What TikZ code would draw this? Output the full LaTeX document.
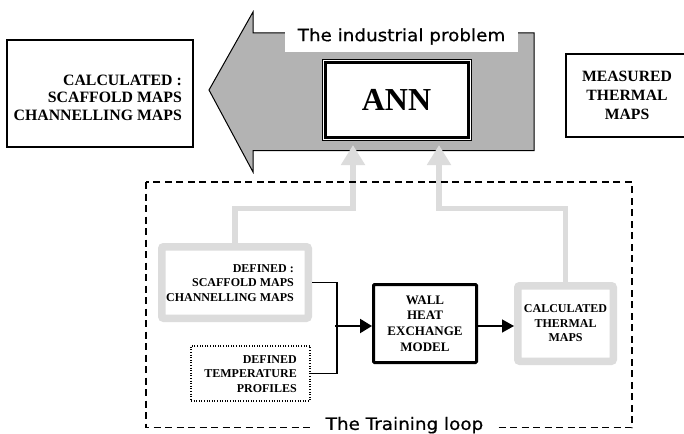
\documentclass[tikz,border=0pt]{standalone}
\usepackage{fontspec}
\setmainfont{Liberation Serif}
\newfontfamily\tagfont[FakeStretch=1.08,FakeBold=0.6]{DejaVu Sans}
\usetikzlibrary{arrows.meta}
\definecolor{arrowgray}{HTML}{B3B3B3}
\definecolor{loopgray}{HTML}{DCDCDC}
\newcommand\setsz[2]{\fontsize{#1pt}{#2pt}\selectfont}

\begin{document}
\begin{tikzpicture}[x=1pt,y=-1pt,
  frame/.style={draw, line width=1.2pt, inner sep=0pt},
  graybox/.style={draw=loopgray, line width=7.5pt, rounded corners=2pt,
                  fill=white, inner sep=0pt},
  bigcaps/.style={font=\setsz{15.8}{17.5}\bfseries, align=right, inner sep=0pt},
  smallcaps/.style={font=\setsz{12}{14.6}\bfseries, align=right, inner sep=0pt},
  tag/.style={fill=white, inner sep=0pt, font=\tagfont\setsz{17}{20}},
  feed/.style={loopgray, line width=5.5pt, -{Triangle[length=20pt,width=23pt]}},
  wire/.style={line width=1.2pt}
]
\useasboundingbox (0,0) rectangle (684,433);
\fill[white] (0,0) rectangle (684,433);

% the industrial problem: large left-pointing arrow
\draw[fill=arrowgray, line width=1pt, line join=miter]
  (209,90) -- (253,12) -- (253,33) -- (534,33) -- (534,150.5)
  -- (253,150.5) -- (253,172) -- cycle;
\node[tag, minimum width=233pt, minimum height=32pt] (indus) at (401.5,36.5)
  {The industrial problem};

% neural network block with double frame
\node[draw, line width=0.8pt, outer sep=0pt, fill=white, minimum width=149pt,
      minimum height=81.5pt, inner sep=0pt, font=\setsz{32}{36}\bfseries]
  (ann) at (396.5,100) {ANN};
\draw[line width=3pt] ([shift={(3pt,3pt)}]ann.south west)
  rectangle ([shift={(-3pt,-3pt)}]ann.north east);

% output and input maps
\node[frame, minimum width=186pt, minimum height=107pt] (outbox) at (100,93.5) {};
\node[bigcaps, anchor=east] (outtext) at (182,97.5)
  {CALCULATED :\\SCAFFOLD MAPS\\CHANNELLING MAPS};
\node[frame, minimum width=122pt, minimum height=83pt,
      font=\setsz{15.7}{19}\bfseries, align=center] (meas) at (627,95.5)
  {MEASURED\\THERMAL\\MAPS};

% training loop blocks
\node[graybox, minimum width=146.5pt, minimum height=71.5pt] (defbox) at (235,282.5) {};
\node[smallcaps, anchor=east] (deftext) at (294,283)
  {DEFINED :\\SCAFFOLD MAPS\\CHANNELLING MAPS};
\node[draw, line width=1.3pt, dash pattern=on 1pt off 1.6pt, minimum width=119pt,
      minimum height=55pt, inner sep=0pt] (tempbox) at (250.5,373.5) {};
\node[smallcaps, anchor=east, font=\setsz{12}{14.8}\bfseries] (temptext) at (297,374)
  {DEFINED\\TEMPERATURE\\PROFILES};
\node[draw, line width=3pt, rounded corners=1pt, minimum width=103pt,
      minimum height=78pt, inner sep=0pt, font=\setsz{13}{15.7}\bfseries,
      align=center] (wall) at (425,323.5) {WALL\\HEAT\\EXCHANGE\\MODEL};
\node[graybox, minimum width=95.5pt, minimum height=75.5pt,
      font=\setsz{12}{14.5}\bfseries, align=center] (calcmaps) at (565.5,323.5)
  {CALCULATED\\THERMAL\\MAPS};

% black connectors
\coordinate (join) at (337,326);
\draw[wire] (defbox.east) -| (join) |- (tempbox.east);
\draw[line width=2.2pt, -{Triangle[length=12pt,width=14pt]}]
  ([xshift=-2pt]join) -- (wall.west |- join);
\draw[line width=1.5pt, -{Triangle[length=12pt,width=13pt]}]
  (wall.east |- join) -- (calcmaps.west |- join);

% feedback to the network
\coordinate (kneeL) at (353,208.5);
\coordinate (tipL) at (353,145);
\coordinate (kneeR) at (439,208.5);
\coordinate (tipR) at (439,145);
\draw[feed] (defbox.north) |- (kneeL) -- (tipL);
\draw[feed] (calcmaps.north) |- (kneeR) -- (tipR);

% training loop frame
\draw[line width=1.4pt, dash pattern=on 7pt off 4.5pt] (146,182) rectangle (632,427.5);
\node[tag, minimum width=185pt, minimum height=17pt] (loop) at (404.5,425.2)
  {The Training loop};
\end{tikzpicture}
\end{document}
